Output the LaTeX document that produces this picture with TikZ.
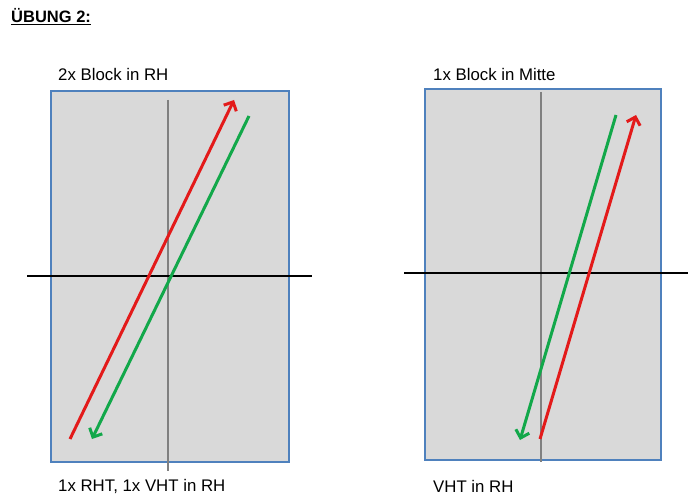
\documentclass[tikz,border=0pt]{standalone}
\usepackage{fontspec}
\setmainfont{Liberation Sans}
\usetikzlibrary{arrows.meta}
\definecolor{boxfill}{HTML}{D9D9D9}
\definecolor{boxline}{HTML}{4F81BD}
\definecolor{axgray}{HTML}{808080}
\definecolor{arrred}{HTML}{E31A1A}
\definecolor{arrgreen}{HTML}{12A84A}
\tikzset{
  panel/.style={draw=boxline,fill=boxfill,line width=1.8pt},
  vaxis/.style={draw=axgray,line width=2pt},
  haxis/.style={draw=black,line width=2pt},
  redarrow/.style={draw=arrred,line width=3pt,-{Straight Barb[length=7pt,width=14pt]}},
  greenarrow/.style={draw=arrgreen,line width=3pt,-{Straight Barb[length=7pt,width=14pt]}},
  lbl/.style={anchor=west,inner sep=0pt,font=\fontsize{16.8}{19}\selectfont}
}
\begin{document}
\begin{tikzpicture}[x=1pt,y=-1pt]
\useasboundingbox (0,0) rectangle (697,500);
% title
\node[anchor=west,inner sep=0pt,font=\fontsize{16.5}{19}\selectfont\bfseries] (title) at (11,17) {\underline{ÜBUNG 2:}};
% left panel
\draw[panel] (51,91) rectangle (289,462);
\coordinate (lvt) at (168,100); \coordinate (lvb) at (168,471);
\draw[vaxis] (lvt) -- (lvb);
\coordinate (lhl) at (27,276); \coordinate (lhr) at (312,276);
\draw[haxis] (lhl) -- (lhr);
\coordinate (lrs) at (70,439); \coordinate (lre) at (234,100);
\draw[redarrow] (lrs) -- (lre);
\coordinate (lgs) at (249,116); \coordinate (lge) at (92,439);
\draw[greenarrow] (lgs) -- (lge);
\node[lbl] (ltop) at (58,74) {2x Block in RH};
\node[lbl] (lbot) at (58,486) {1x RHT, 1x VHT in RH};
% right panel
\draw[panel] (425,89) rectangle (661,460);
\coordinate (rvt) at (541,92); \coordinate (rvb) at (541,462);
\draw[vaxis] (rvt) -- (rvb);
\coordinate (rhl) at (404,273); \coordinate (rhr) at (688,273);
\draw[haxis] (rhl) -- (rhr);
\coordinate (rgs) at (616,115); \coordinate (rge) at (520,440);
\draw[greenarrow] (rgs) -- (rge);
\coordinate (rrs) at (540,439); \coordinate (rre) at (636,115);
\draw[redarrow] (rrs) -- (rre);
\node[lbl] (rtop) at (433,74) {1x Block in Mitte};
\node[lbl] (rbot) at (433,486) {VHT in RH};
\end{tikzpicture}
\end{document}
